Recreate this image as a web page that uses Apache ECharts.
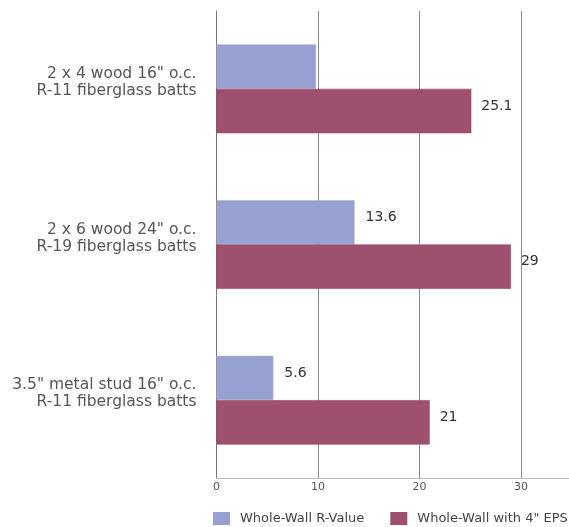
<!DOCTYPE html>
<html>
<head>
<meta charset="utf-8">
<script src="https://cdn.jsdelivr.net/npm/echarts@6/dist/echarts.min.js"></script>
<style>
html,body{margin:0;padding:0;background:#fff;}
#chart{width:569px;height:527px;}
</style>
</head>
<body>
<div id="chart"></div>
<script>
const categories = [
  '2 x 4 wood 16" o.c.\nR-11 fiberglass batts',
  '2 x 6 wood 24" o.c.\nR-19 fiberglass batts',
  '3.5" metal stud 16" o.c.\nR-11 fiberglass batts'
];
const seriesNames = ['Whole-Wall R-Value', 'Whole-Wall with 4" EPS'];
const wholeWallRValue = [9.8, 13.6, 5.6];
const wholeWallWithEPS = [25.1, 29, 21];
const showValueLabel = [false, true, true];
const xTicks = [0, 10, 20, 30];

const FONT = 'DejaVu Sans';
const chart = echarts.init(document.getElementById('chart'), null, {renderer: 'canvas'});

const option = {
  animation: false,
  backgroundColor: '#ffffff',
  textStyle: {fontFamily: FONT},
  grid: {left: 216.5, width: 355.3, top: 11, bottom: 49, containLabel: false, outerBoundsMode: 'none'},
  legend: {
    left: 208, top: 507, width: 430,
    itemWidth: 17, itemHeight: 13, itemGap: 26,
    icon: 'rect',
    itemStyle: {borderWidth: 0},
    textStyle: {fontFamily: FONT, fontSize: 13, color: '#444', padding: [0, 0, 0, 5]},
    data: seriesNames
  },
  xAxis: {
    type: 'value', min: 0, max: 35, interval: 10,
    axisLine: {show: true, lineStyle: {color: '#bbbbbb', width: 1}},
    axisTick: {show: false},
    splitLine: {show: true, lineStyle: {color: '#8a8a8a', width: 1}},
    axisLabel: {
      showMaxLabel: false, color: '#555', fontSize: 11, fontFamily: FONT, margin: 4,
      formatter: v => xTicks.indexOf(v) >= 0 ? String(v) : ''
    }
  },
  yAxis: {
    type: 'category', inverse: true, data: categories,
    axisLine: {show: true, lineStyle: {color: '#777', width: 1}},
    axisTick: {show: false},
    axisLabel: {
      color: '#555', fontSize: 15.5, fontFamily: FONT, lineHeight: 17,
      align: 'right', margin: 20,
      formatter: v => v + '\n{s| }',
      rich: {s: {lineHeight: 13, fontSize: 10}}
    }
  },
  series: [
    {
      name: seriesNames[0], type: 'bar', barGap: '0%', barCategoryGap: '43%',
      data: wholeWallRValue.map((v, i) => ({value: v, label: {show: showValueLabel[i]}})),
      itemStyle: {color: '#96a1d2', borderColor: '#a9aec8', borderWidth: 0.6},
      label: {show: true, position: 'right', distance: 11, offset: [0, -5], color: '#333', fontSize: 14, fontFamily: FONT}
    },
    {
      name: seriesNames[1], type: 'bar', barGap: '0%', barCategoryGap: '43%',
      data: wholeWallWithEPS,
      itemStyle: {color: '#a0506f', borderColor: '#8e4562', borderWidth: 0.6},
      label: {show: true, position: 'right', distance: 10, offset: [0, -5], color: '#333', fontSize: 14, fontFamily: FONT}
    }
  ]
};
chart.setOption(option);
</script>
</body>
</html>
